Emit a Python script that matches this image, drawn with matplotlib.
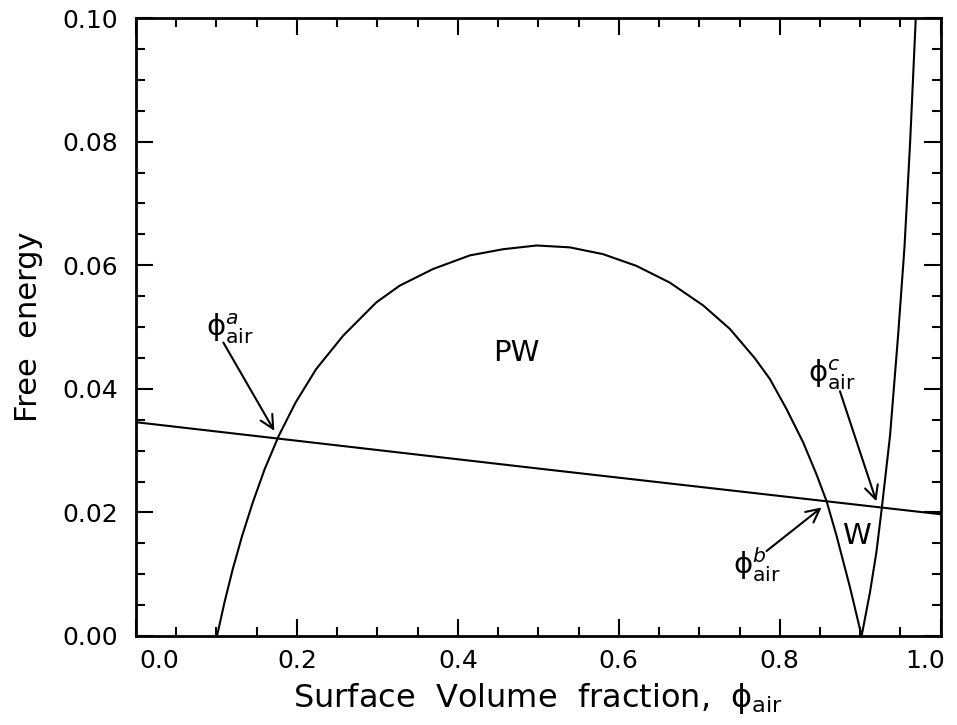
import numpy as np
import matplotlib.pyplot as plt
from matplotlib.ticker import MultipleLocator

plt.rcParams['font.family'] = 'DejaVu Sans'
plt.rcParams['mathtext.fontset'] = 'dejavusans'

# free energy curve (PW branch, then W branch)
phi_curve = [0.1008, 0.110, 0.1203, 0.132, 0.1452, 0.160, 0.1775, 0.1985, 0.224,
             0.2575, 0.2988, 0.3278, 0.3693, 0.415, 0.4564, 0.498, 0.539, 0.5804,
             0.6219, 0.6633, 0.7048, 0.738, 0.7687, 0.7877, 0.8085, 0.8292, 0.8458,
             0.8582, 0.8706, 0.8872, 0.9017,
             0.912, 0.920, 0.9266, 0.937, 0.947, 0.955, 0.962, 0.969]
f_curve = [0.0, 0.0054, 0.0108, 0.0162, 0.0216, 0.0270, 0.0324, 0.0378, 0.0432,
           0.0486, 0.0540, 0.0567, 0.0594, 0.0616, 0.0626, 0.0632, 0.0629, 0.0618,
           0.0599, 0.0572, 0.0535, 0.0497, 0.0450, 0.0416, 0.0367, 0.0313, 0.0261,
           0.0218, 0.0162, 0.0079, 0.0,
           0.0070, 0.0135, 0.0205, 0.0324, 0.0486, 0.0630, 0.0800, 0.1000]

# common tangent line
phi_line = [0.0, 0.5, 1.0]
f_line = [0.0346, 0.0271, 0.0197]

# x tick labels
x_ticks = [0.0, 0.2, 0.4, 0.6, 0.8, 1.0]
x_ticklabels = ['0.0', '0.2', '0.4', '0.6', '0.8', '1.0']

# annotations: label, text position, arrow tip, arrow tail
annot_labels = [r'$\mathrm{\phi}^{a}_{\mathrm{air}}$', r'$\mathrm{\phi}^{b}_{\mathrm{air}}$',
                r'$\mathrm{\phi}^{c}_{\mathrm{air}}$']
annot_text = [(0.117, 0.0497), (0.772, 0.0115), (0.865, 0.0422)]
annot_tip = [(0.172, 0.0332), (0.852, 0.0208), (0.920, 0.0218)]
annot_tail = [(0.1086, 0.0475), (0.7836, 0.01375), (0.8748, 0.0396)]

fig = plt.figure(figsize=(9.57, 7.25), dpi=100)
ax = fig.add_axes([0.142, 0.1228, 0.841, 0.8522])

ax.plot(phi_curve, f_curve, color='black', lw=1.5)
ax.plot(phi_line, f_line, color='black', lw=1.5)

for lab, tp, tip, tail in zip(annot_labels, annot_text, annot_tip, annot_tail):
    ax.text(tp[0], tp[1], lab, fontsize=21, ha='center', va='center')
    ax.annotate('', xy=tip, xytext=tail,
                arrowprops=dict(arrowstyle='->', color='black', lw=1.5,
                                mutation_scale=24, shrinkA=0, shrinkB=0))

ax.text(0.473, 0.0458, 'PW', fontsize=21, ha='center', va='center')
ax.text(0.8955, 0.0162, 'W', fontsize=21, ha='center', va='center')

# end labels are pushed inside the axis, like the original
inner = ['' if i in (0, len(x_ticks) - 1) else s for i, s in enumerate(x_ticklabels)]
ax.set_xticks(x_ticks, labels=inner)
ax.xaxis.set_minor_locator(MultipleLocator(0.05))
ax.yaxis.set_major_locator(MultipleLocator(0.02))
ax.yaxis.set_minor_locator(MultipleLocator(0.005))
ax.yaxis.set_major_formatter(plt.FormatStrFormatter('%.2f'))
ax.set_xlim(0, 1.0)
ax.set_ylim(0, 0.10)
for xv, s, ha, dx in [(x_ticks[0], x_ticklabels[0], 'left', 3),
                      (x_ticks[-1], x_ticklabels[-1], 'right', 4)]:
    ax.annotate(s, xy=(xv, 0), xycoords='data', xytext=(dx, -13),
                textcoords='offset pixels', ha=ha, va='top', fontsize=18,
                annotation_clip=False)

ax.tick_params(which='both', direction='in', top=True, right=True, width=1.5)
ax.tick_params(which='major', length=12, labelsize=18)
ax.tick_params(axis='y', which='major', pad=13)
ax.tick_params(axis='x', which='major', pad=9.5)
ax.tick_params(which='minor', length=6.5)
for sp in ax.spines.values():
    sp.set_linewidth(2)

ax.set_xlabel(r'Surface  Volume  fraction,  $\mathrm{\phi}_{\mathrm{air}}$', fontsize=23, labelpad=6)
ax.set_ylabel('Free  energy', fontsize=22, labelpad=14)

fig.savefig('out.png', dpi=100)
